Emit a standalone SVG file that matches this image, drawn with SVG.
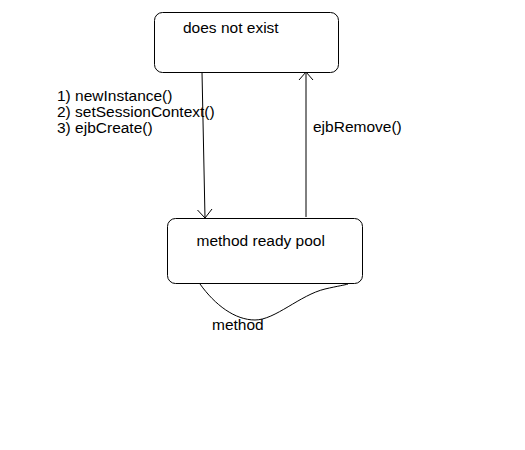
<svg xmlns="http://www.w3.org/2000/svg" width="525" height="450" viewBox="0 0 525 450">
<style>
.node{fill:#fff;stroke:#000;stroke-width:1}
.t{font-family:"Liberation Sans",Arial,sans-serif;font-size:15.5px;fill:#000}
.c{fill:none;stroke:#000;stroke-width:1}
</style>
<rect width="525" height="450" fill="#fff"/>
<g id="connectors">
<path class="c" d="M202 72 L205 218"/>
<path class="c" d="M197.5 210 L205 218 L212 209"/>
<path class="c" d="M306 217 L306 72"/>
<path class="c" d="M299 80 L306 72 L313 80"/>
<path class="c" d="M200 284 C215 305 235 320 255 320 C275 320 300 295 325 289 C338 286 345 285 348 284"/>
<text class="t" x="57" y="100.5">1) newInstance()</text>
<text class="t" x="57" y="116.5">2) setSessionContext()</text>
<text class="t" x="57" y="132.5">3) ejbCreate()</text>
<text class="t" x="313" y="132">ejbRemove()</text>
<text class="t" x="212" y="330">method</text>
</g>
<g id="does-not-exist">
<rect class="node" x="154.5" y="12.5" width="184" height="60" rx="8"/>
<text class="t" x="183" y="33">does not exist</text>
</g>
<g id="method-ready-pool">
<rect class="node" x="167.5" y="218.5" width="195" height="65" rx="8"/>
<text class="t" x="196.5" y="245.5">method ready pool</text>
</g>
</svg>
